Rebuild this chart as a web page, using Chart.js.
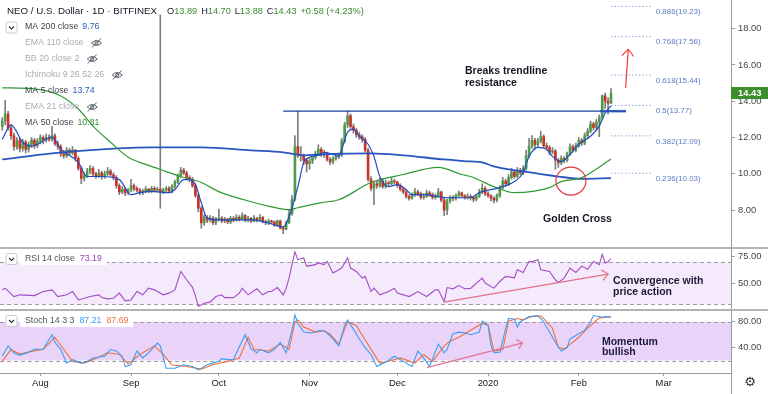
<!DOCTYPE html>
<html>
<head>
<meta charset="utf-8">
<title>NEO / U.S. Dollar · 1D · BITFINEX</title>
<script src="https://cdn.jsdelivr.net/npm/chart.js@4.4.1/dist/chart.umd.min.js"></script>
<style>
  html, body { margin: 0; padding: 0; background: #ffffff; }
  #stage { position: relative; width: 768px; height: 394px; overflow: hidden; background: #ffffff; }
  #stage canvas { position: absolute; left: 0; }
  .sep { position: absolute; left: 0; width: 768px; height: 2px; background: #b4b4b4; }
</style>
</head>
<body>
<div id="stage">
  <canvas id="pricePane" width="768" height="248" style="top:0"></canvas>
  <canvas id="rsiPane" width="768" height="62" style="top:248px"></canvas>
  <canvas id="stochPane" width="768" height="84" style="top:310px"></canvas>
  <div class="sep" style="top:247px"></div>
  <div class="sep" style="top:309px"></div>
  <div style="position:absolute;left:731px;top:373px;width:1px;height:21px;background:#9b9b9b"></div>
</div>
<script>
// Daily candles, day 0 = 2019-07-19 ... day 208 = 2020-02-12
const opens = [
  12.6, 12.9, 13.3, 12.55, 12.1, 11.5, 11.85, 11.4, 11.75, 11.35,
  11.6, 11.85, 11.55, 11.8, 12.0, 11.85, 12.0, 11.9, 12.1, 11.65,
  11.5, 11.1, 11.0, 11.3, 11.15, 11.3, 10.85, 10.3, 9.75, 9.9,
  10.15, 10.3, 10.0, 9.9, 10.05, 9.85, 10.0, 10.15, 9.95, 9.8,
  9.35, 9.0, 9.15, 8.95, 9.1, 9.35, 9.2, 9.1, 8.95, 9.05,
  9.15, 9.05, 9.2, 9.1, 9.15, 9.0, 9.1, 9.2, 9.05, 9.3,
  9.55, 9.9, 10.2, 10.05, 9.8, 9.7, 9.35, 8.8, 8.1, 7.3,
  7.6, 7.45, 7.55, 7.3, 7.5, 7.55, 7.4, 7.5, 7.35, 7.55,
  7.45, 7.6, 7.5, 7.7, 7.45, 7.55, 7.4, 7.55, 7.45, 7.6,
  7.35, 7.3, 7.4, 7.35, 7.15, 7.4, 7.0, 6.95, 7.3, 7.8,
  8.6, 11.5, 11.05, 11.0, 10.75, 10.55, 10.7, 10.9, 11.1, 11.35,
  11.05, 11.1, 10.8, 10.65, 10.85, 10.95, 11.05, 11.8, 12.7, 13.2,
  12.6, 12.4, 12.15, 12.05, 11.9, 11.3, 9.7, 9.2, 9.45, 9.35,
  9.6, 9.3, 9.5, 9.45, 9.6, 9.55, 9.35, 9.15, 9.0, 8.75,
  8.65, 8.85, 9.0, 8.9, 8.7, 8.75, 8.95, 8.85, 8.7, 8.8,
  9.0, 8.55, 8.0, 8.5, 8.7, 8.65, 8.8, 8.95, 8.8, 8.7,
  8.75, 8.7, 8.6, 8.75, 9.0, 9.2, 8.9, 8.8, 8.65, 8.55,
  8.8, 9.25, 9.6, 9.45, 9.8, 10.1, 9.85, 10.2, 10.05, 10.3,
  11.0, 11.5, 11.85, 11.6, 11.8, 12.05, 11.55, 11.45, 11.2, 11.25,
  10.75, 10.6, 10.85, 10.75, 11.1, 11.5, 11.3, 11.55, 11.85, 11.7,
  12.1, 12.35, 12.75, 12.55, 12.85, 13.1, 14.3, 14.0, 13.89
];
const highs = [
  13.1, 14.05, 13.45, 12.7, 12.25, 12.0, 11.95, 11.9, 11.85, 11.75,
  12.0, 11.95, 11.95, 12.15, 12.1, 12.2, 12.15, 12.6, 12.2, 11.8,
  11.6, 11.3, 11.45, 11.4, 11.5, 11.35, 10.95, 10.4, 10.05, 10.3,
  10.45, 10.4, 10.1, 10.25, 10.15, 10.15, 10.35, 10.25, 10.05, 9.9,
  9.45, 9.3, 9.25, 9.2, 9.7, 9.45, 9.3, 9.2, 9.15, 9.3,
  9.2, 9.3, 9.3, 9.25, 18.75, 9.2, 9.3, 9.3, 9.4, 9.65,
  10.0, 10.35, 10.3, 10.15, 9.9, 9.8, 9.45, 8.9, 8.2, 7.75,
  7.7, 7.7, 7.65, 7.6, 8.05, 7.65, 7.6, 7.55, 7.65, 7.65,
  7.75, 7.7, 7.85, 7.75, 7.65, 7.6, 7.7, 7.6, 7.75, 7.65,
  7.45, 7.5, 7.45, 7.4, 7.45, 7.45, 7.1, 7.4, 8.0, 8.8,
  12.1, 13.45, 11.5, 11.1, 10.85, 10.85, 11.0, 11.25, 11.6, 11.45,
  11.3, 11.2, 10.9, 10.95, 11.05, 11.15, 11.95, 12.85, 13.45, 13.3,
  12.75, 12.5, 12.3, 12.15, 12.0, 11.4, 9.85, 9.6, 9.6, 9.75,
  9.7, 9.65, 9.6, 9.8, 9.7, 9.6, 9.45, 9.25, 9.1, 8.85,
  8.95, 9.2, 9.1, 9.0, 8.9, 9.1, 9.05, 8.95, 8.9, 9.2,
  9.05, 8.65, 8.6, 8.8, 8.8, 8.9, 9.05, 9.0, 8.85, 8.9,
  8.85, 8.75, 8.85, 9.15, 9.45, 9.3, 9.0, 8.85, 8.75, 8.9,
  9.35, 9.8, 9.7, 9.95, 10.3, 10.2, 10.35, 10.3, 10.45, 11.3,
  11.95, 12.1, 11.95, 11.95, 12.35, 12.15, 11.7, 11.55, 11.45, 11.35,
  10.85, 11.0, 10.95, 11.2, 11.65, 11.6, 11.7, 12.0, 11.95, 12.25,
  12.5, 12.9, 12.85, 13.0, 13.25, 14.35, 14.45, 14.2, 14.7
];
const lows = [
  12.4, 12.7, 12.4, 11.9, 11.3, 11.35, 11.2, 11.25, 11.15, 11.2,
  11.45, 11.4, 11.45, 11.65, 11.65, 11.75, 11.8, 11.8, 11.55, 11.35,
  10.95, 10.85, 10.9, 11.0, 11.05, 10.7, 10.2, 9.45, 9.6, 9.8,
  10.0, 9.9, 9.75, 9.8, 9.7, 9.75, 9.9, 9.85, 9.65, 9.2,
  8.85, 8.9, 8.8, 8.85, 9.0, 9.05, 9.0, 8.85, 8.85, 8.95,
  8.95, 8.95, 9.0, 9.0, 8.1, 8.9, 9.0, 8.95, 8.95, 9.2,
  9.45, 9.8, 9.95, 9.7, 9.55, 9.25, 8.7, 7.9, 7.0, 7.15,
  7.3, 7.35, 7.2, 7.2, 7.4, 7.3, 7.3, 7.25, 7.25, 7.35,
  7.4, 7.4, 7.45, 7.35, 7.35, 7.3, 7.35, 7.35, 7.4, 7.3,
  7.2, 7.2, 7.25, 7.1, 7.1, 6.95, 6.7, 6.9, 7.25, 7.7,
  8.5, 10.9, 10.7, 10.5, 10.1, 10.25, 10.55, 10.8, 11.0, 10.95,
  10.9, 10.7, 10.5, 10.55, 10.75, 10.85, 10.95, 11.7, 12.55, 12.5,
  12.25, 12.0, 11.9, 11.75, 11.2, 9.6, 9.05, 8.3, 9.2, 9.25,
  9.2, 9.2, 9.3, 9.4, 9.45, 9.25, 9.05, 8.9, 8.65, 8.55,
  8.6, 8.75, 8.8, 8.6, 8.6, 8.7, 8.75, 8.6, 8.6, 8.7,
  8.45, 7.7, 7.75, 8.4, 8.5, 8.55, 8.7, 8.7, 8.6, 8.6,
  8.55, 8.45, 8.5, 8.7, 8.9, 8.8, 8.7, 8.5, 8.4, 8.45,
  8.7, 9.15, 9.3, 9.35, 9.7, 9.75, 9.8, 9.95, 9.95, 10.2,
  10.9, 11.4, 11.35, 11.5, 11.7, 11.45, 11.3, 11.05, 11.1, 10.25,
  10.35, 10.5, 10.6, 10.65, 11.0, 11.2, 11.2, 11.45, 11.55, 11.6,
  12.0, 12.25, 12.4, 12.45, 12.05, 13.0, 13.6, 13.3, 13.88
];
const closes = [
  12.9, 13.3, 12.55, 12.1, 11.5, 11.85, 11.4, 11.75, 11.35, 11.6,
  11.85, 11.55, 11.8, 12.0, 11.85, 12.0, 11.9, 12.1, 11.65, 11.5,
  11.1, 11.0, 11.3, 11.15, 11.3, 10.85, 10.3, 9.75, 9.9, 10.15,
  10.3, 10.0, 9.9, 10.05, 9.85, 10.0, 10.15, 9.95, 9.8, 9.35,
  9.0, 9.15, 8.95, 9.1, 9.35, 9.2, 9.1, 8.95, 9.05, 9.15,
  9.05, 9.2, 9.1, 9.15, 9.0, 9.1, 9.2, 9.05, 9.3, 9.55,
  9.9, 10.2, 10.05, 9.8, 9.7, 9.35, 8.8, 8.1, 7.3, 7.6,
  7.45, 7.55, 7.3, 7.5, 7.55, 7.4, 7.5, 7.35, 7.55, 7.45,
  7.6, 7.5, 7.7, 7.45, 7.55, 7.4, 7.55, 7.45, 7.6, 7.35,
  7.3, 7.4, 7.35, 7.15, 7.4, 7.0, 6.95, 7.3, 7.8, 8.6,
  11.5, 11.05, 11.0, 10.75, 10.55, 10.7, 10.9, 11.1, 11.35, 11.05,
  11.1, 10.8, 10.65, 10.85, 10.95, 11.05, 11.8, 12.7, 13.2, 12.6,
  12.4, 12.15, 12.05, 11.9, 11.3, 9.7, 9.2, 9.45, 9.35, 9.6,
  9.3, 9.5, 9.45, 9.6, 9.55, 9.35, 9.15, 9.0, 8.75, 8.65,
  8.85, 9.0, 8.9, 8.7, 8.75, 8.95, 8.85, 8.7, 8.8, 9.0,
  8.55, 8.0, 8.5, 8.7, 8.65, 8.8, 8.95, 8.8, 8.7, 8.75,
  8.7, 8.6, 8.75, 9.0, 9.2, 8.9, 8.8, 8.65, 8.55, 8.8,
  9.25, 9.6, 9.45, 9.8, 10.1, 9.85, 10.2, 10.05, 10.3, 11.0,
  11.5, 11.85, 11.6, 11.8, 12.05, 11.55, 11.45, 11.2, 11.25, 10.75,
  10.6, 10.85, 10.75, 11.1, 11.5, 11.3, 11.55, 11.85, 11.7, 12.1,
  12.35, 12.75, 12.55, 12.85, 13.1, 14.3, 14.0, 13.89, 14.43
];
const lastChange = 0.58;
const lastChangePct = 4.23;

// x axis: day index of the 1st of each month
const monthTickDays = [13, 44, 74, 105, 135, 166, 197, 226];
const monthTickLabels = ['Aug', 'Sep', 'Oct', 'Nov', 'Dec', '2020', 'Feb', 'Mar'];

// Moving averages (day, value)
const ma5Days = [0, 3, 7, 10, 17, 20, 26, 29, 34, 40, 44, 47, 51, 57, 59, 62, 64, 66, 68, 70,
  74, 79, 85, 91, 96, 98, 101, 103, 105, 109, 110, 113, 115, 116, 118, 120, 122, 125, 127, 129,
  132, 135, 138, 140, 144, 149, 152, 156, 160, 163, 170, 175, 178, 180, 183, 186, 188, 191, 194, 197,
  201, 204, 206, 208];
const ma5Values = [11.9, 12.7, 11.74, 11.52, 12.02, 11.35, 10.63, 9.85, 9.85, 9.68, 8.85, 8.96, 9.03, 8.96, 9.13, 9.68, 9.68, 9.41, 8.41, 7.57,
  7.46, 7.46, 7.46, 7.29, 7.07, 7.63, 9.29, 10.63, 10.91, 11.07, 11.18, 11.07, 10.96, 11.35, 12.29, 12.46, 12.07, 11.63, 10.96, 9.85,
  9.29, 9.4, 9.13, 8.85, 8.85, 8.74, 8.68, 8.68, 8.68, 8.96, 9.24, 9.57, 10.07, 10.96, 11.46, 11.35, 10.96, 10.68, 11.07, 11.63,
  12.07, 12.63, 13.35, 13.74];
const ma50Days = [0, 11, 20, 26, 31, 37, 43, 47, 54, 61, 68, 74, 85, 92, 98, 101, 109, 115, 126, 137,
  149, 157, 160, 168, 175, 187, 191, 198, 208];
const ma50Values = [14.74, 14.68, 14.29, 13.57, 12.63, 11.74, 10.91, 10.63, 10.24, 9.85, 9.52, 9.02, 8.46, 8.18, 8.02, 8.13, 8.41, 8.57, 9.52, 9.96,
  10.35, 9.96, 9.85, 9.29, 8.96, 9.24, 9.57, 9.79, 10.81];
const ma200Days = [0, 17, 34, 51, 68, 85, 96, 103, 109, 126, 137, 151, 160, 164, 168, 178, 190, 198, 208];
const ma200Values = [10.79, 11.13, 11.35, 11.46, 11.46, 11.29, 11.18, 11.02, 11.07, 11.13, 11.02, 10.79, 10.68, 10.63, 10.41, 10.13, 9.85, 9.72, 9.76];

// RSI 14
const rsiDays = [0, 1, 4, 6, 11, 14, 17, 19, 22, 24, 26, 28, 30, 33, 34, 36, 38, 40, 42, 44,
  46, 48, 50, 52, 55, 57, 59, 61, 63, 65, 66, 67, 69, 71, 73, 75, 76, 79, 81, 82,
  84, 87, 89, 91, 92, 94, 96, 97, 98, 99, 100, 101, 103, 104, 107, 108, 110, 111, 113, 115,
  116, 118, 119, 121, 123, 124, 126, 127, 129, 132, 134, 135, 139, 142, 145, 148, 149, 151, 152, 154,
  156, 158, 160, 164, 165, 168, 170, 172, 175, 176, 178, 180, 181, 183, 184, 187, 189, 190, 192, 194,
  196, 198, 200, 202, 204, 205, 206, 207, 208];
const rsiValues = [43.6, 45.2, 37.3, 38.9, 38.2, 42.0, 43.6, 37.3, 38.9, 42.0, 34.1, 35.7, 37.3, 38.9, 36.3, 35.1, 35.7, 40.5, 33.2, 34.1,
  42.0, 38.9, 45.2, 43.6, 38.9, 40.5, 43.6, 61.0, 53.1, 46.0, 38.0, 28.0, 31.0, 32.0, 37.3, 38.9, 36.3, 36.3, 40.5, 45.2,
  38.9, 44.6, 38.9, 42.0, 42.0, 45.8, 38.9, 45.0, 54.7, 67.4, 79.4, 72.1, 73.7, 65.8, 67.4, 69.0, 67.4, 70.5, 59.5, 62.6,
  64.2, 73.7, 64.2, 61.0, 54.7, 56.3, 42.0, 45.2, 38.9, 42.0, 45.2, 40.5, 37.3, 42.0, 37.3, 43.6, 43.6, 32.5, 45.8, 44.6,
  47.7, 44.6, 45.0, 54.7, 50.0, 45.2, 51.5, 56.3, 55.0, 62.6, 60.0, 70.5, 70.0, 72.1, 62.6, 61.0, 53.1, 50.6, 54.7, 64.2,
  60.0, 66.0, 63.0, 70.5, 67.4, 77.2, 69.0, 70.0, 73.19];

// Stoch 14 3 3
const stochKDays = [0, 2, 4, 6, 9, 11, 14, 17, 18, 20, 22, 24, 27, 29, 31, 35, 37, 39, 41, 42,
  44, 46, 48, 50, 53, 54, 56, 59, 62, 65, 67, 70, 72, 74, 75, 77, 79, 82, 83, 85,
  87, 88, 91, 93, 95, 97, 99, 100, 101, 103, 106, 108, 110, 111, 113, 115, 117, 118, 120, 122,
  124, 126, 128, 132, 134, 136, 140, 142, 144, 146, 149, 151, 152, 154, 156, 158, 160, 163, 164, 166,
  167, 168, 170, 172, 173, 175, 176, 177, 180, 183, 185, 187, 189, 191, 193, 194, 197, 199, 201, 202,
  205, 206, 208];
const stochKValues = [26.7, 42.7, 32.0, 28.0, 33.0, 37.4, 37.4, 59.8, 48.0, 37.4, 16.0, 21.4, 16.0, 18.7, 24.0, 26.7, 37.0, 34.7, 26.7, 10.7,
  13.4, 34.7, 24.0, 32.0, 47.0, 42.7, 8.0, 8.0, 13.4, 10.7, 5.4, 13.4, 16.0, 18.7, 23.0, 21.4, 22.0, 50.7, 60.0, 38.0,
  32.0, 37.4, 32.0, 37.4, 48.0, 32.0, 66.7, 90.7, 77.4, 64.0, 62.6, 66.0, 66.0, 62.6, 53.4, 42.7, 74.7, 82.7, 68.6, 53.4,
  40.0, 29.4, 10.7, 20.0, 26.7, 21.4, 10.7, 34.7, 24.0, 10.7, 45.4, 32.0, 37.4, 61.4, 64.0, 63.0, 60.0, 64.0, 81.0, 74.7,
  42.7, 32.0, 33.0, 69.4, 85.4, 84.0, 72.0, 80.0, 88.0, 89.6, 80.0, 64.0, 48.0, 34.7, 40.0, 53.4, 61.4, 66.7, 80.0, 89.6,
  87.0, 88.0, 87.21];
const stochDDays = [0, 3, 6, 11, 14, 18, 21, 24, 28, 31, 36, 40, 43, 47, 52, 55, 58, 63, 68, 72,
  77, 81, 84, 86, 91, 95, 98, 100, 101, 103, 107, 110, 112, 115, 118, 121, 126, 129, 133, 136,
  141, 144, 147, 151, 153, 156, 159, 164, 166, 168, 171, 173, 176, 178, 181, 184, 185, 188, 190, 192,
  194, 197, 200, 204, 208];
const stochDValues = [18.7, 37.0, 30.0, 35.0, 37.4, 56.0, 37.4, 18.7, 16.0, 21.4, 32.0, 29.4, 14.7, 29.4, 42.7, 29.4, 13.0, 10.7, 6.7, 13.4,
  18.7, 24.0, 56.0, 37.4, 34.7, 45.4, 37.4, 80.0, 82.7, 72.0, 64.0, 66.0, 61.0, 45.4, 80.0, 74.0, 37.4, 16.0, 20.0, 24.0,
  16.0, 29.4, 18.7, 42.7, 50.0, 56.0, 64.0, 77.4, 74.7, 34.7, 37.0, 81.0, 85.0, 83.0, 88.0, 89.0, 85.0, 70.0, 40.0, 38.0,
  45.0, 56.0, 70.0, 86.0, 87.69];

// Drawings
const fibRatios = [0.886, 0.768, 0.618, 0.5, 0.382, 0.236];
const fibPrices = [19.23, 17.56, 15.44, 13.77, 12.09, 10.03];
const trendLevel = 13.45;
const priceTicks = [8, 10, 12, 14, 16, 18];
const rsiTicks = [50, 75];
const stochTicks = [40, 80];

// ---- layout constants ----
const X_MIN = -0.77, X_MAX = 249;
const AXIS_W = 37;
const FONT = '"Liberation Sans", Arial, sans-serif';
const UP = '#4f9a47', DOWN = '#cc3229', WICK = '#7d7d7d';

const pts = (days, vals) => days.map((d, k) => ({ x: d, y: vals[k] }));

function hiddenX() {
  return { type: 'linear', min: X_MIN, max: X_MAX, offset: false, display: false };
}

function rightAxis(min, max, tickValues) {
  return {
    type: 'linear', position: 'right', min: min, max: max,
    afterBuildTicks: s => { s.ticks = tickValues.map(v => ({ value: v })); },
    afterFit: s => { s.width = AXIS_W; s.paddingTop = 0; s.paddingBottom = 0; },
    grid: { drawOnChartArea: false, drawTicks: true, tickLength: 4, color: '#9b9b9b' },
    border: { display: true, color: '#9b9b9b' },
    ticks: { padding: 3, color: '#434651', font: { family: FONT, size: 9.4 }, callback: v => v.toFixed(2) }
  };
}

function baseOptions(scales) {
  return {
    responsive: false, animation: false, devicePixelRatio: 1, events: [],
    layout: { padding: 0 },
    plugins: { legend: { display: false }, tooltip: { enabled: false } },
    scales: scales
  };
}

function lineSet(data, color, width, extra) {
  return Object.assign({
    type: 'line', data: data, borderColor: color, borderWidth: width,
    pointRadius: 0, fill: false, tension: 0, order: 0
  }, extra || {});
}

function drawArrow(ctx, x1, y1, x2, y2, color, head) {
  ctx.save();
  ctx.strokeStyle = color; ctx.lineWidth = 1.2;
  ctx.beginPath(); ctx.moveTo(x1, y1); ctx.lineTo(x2, y2); ctx.stroke();
  const a = Math.atan2(y2 - y1, x2 - x1);
  ctx.beginPath();
  ctx.moveTo(x2 - head * Math.cos(a - 0.72), y2 - head * Math.sin(a - 0.72));
  ctx.lineTo(x2, y2);
  ctx.lineTo(x2 - head * Math.cos(a + 0.72), y2 - head * Math.sin(a + 0.72));
  ctx.stroke();
  ctx.restore();
}

function drawChevronBox(ctx, x, y) {
  ctx.save();
  ctx.fillStyle = '#ffffff';
  ctx.strokeStyle = '#c8cad0'; ctx.lineWidth = 1;
  ctx.beginPath(); ctx.roundRect(x + 0.5, y + 0.5, 11, 11, 2); ctx.fill(); ctx.stroke();
  ctx.strokeStyle = '#2a2e39'; ctx.lineWidth = 1.1;
  ctx.beginPath(); ctx.moveTo(x + 3.5, y + 5); ctx.lineTo(x + 6, y + 7.5); ctx.lineTo(x + 8.5, y + 5); ctx.stroke();
  ctx.restore();
}

function drawEyeOff(ctx, cx, cy) {
  ctx.save();
  ctx.strokeStyle = '#5d606b'; ctx.lineWidth = 1;
  ctx.beginPath();
  ctx.moveTo(cx - 5, cy);
  ctx.quadraticCurveTo(cx, cy - 5, cx + 5, cy);
  ctx.quadraticCurveTo(cx, cy + 5, cx - 5, cy);
  ctx.stroke();
  ctx.beginPath(); ctx.arc(cx, cy, 1.6, 0, Math.PI * 2); ctx.stroke();
  ctx.beginPath(); ctx.moveTo(cx - 4.5, cy + 4.5); ctx.lineTo(cx + 4.5, cy - 4.5); ctx.stroke();
  ctx.restore();
}

function drawBand(chart, lo, hi, fill) {
  const { ctx, chartArea } = chart;
  const ys = chart.scales.y;
  const yTop = ys.getPixelForValue(hi), yBot = ys.getPixelForValue(lo);
  ctx.save();
  ctx.fillStyle = fill;
  ctx.fillRect(chartArea.left, yTop, chartArea.right - chartArea.left, yBot - yTop);
  ctx.strokeStyle = '#9e9e9e'; ctx.lineWidth = 1; ctx.setLineDash([4, 3]);
  [yTop, yBot].forEach(y => {
    ctx.beginPath(); ctx.moveTo(chartArea.left, Math.round(y) + 0.5); ctx.lineTo(chartArea.right, Math.round(y) + 0.5); ctx.stroke();
  });
  ctx.restore();
}

function drawPaneLegend(ctx, y, parts) {
  ctx.save();
  ctx.font = '8.8px ' + FONT; ctx.textBaseline = 'middle';
  let x = 25;
  let total = 0;
  parts.forEach((p, k) => { total += ctx.measureText(p[0]).width + (k ? 5 : 0); });
  ctx.fillStyle = 'rgba(255,255,255,0.95)';
  ctx.fillRect(20, y - 6, total + 10, 12);
  drawChevronBox(ctx, 5.5, y - 6);
  parts.forEach((p, k) => {
    ctx.fillStyle = p[1];
    ctx.fillText(p[0], x, y);
    x += ctx.measureText(p[0]).width + 5;
  });
  ctx.restore();
}

// ---- price pane ----
const n = closes.length;
const wickSet = {
  type: 'bar', data: closes.map((c, i) => ({ x: i, y: [lows[i], highs[i]] })),
  backgroundColor: WICK, barThickness: 1, grouped: false, order: 3
};
const bodySet = {
  type: 'bar', data: closes.map((c, i) => ({ x: i, y: [opens[i], c] })),
  backgroundColor: ctx => closes[ctx.dataIndex] >= opens[ctx.dataIndex] ? UP : DOWN,
  barThickness: 2, minBarLength: 1, grouped: false, order: 2
};

const FIB_START = 208, FIB_END = 222, FIB_LABEL = 223.3;
const TREND_START = 96, TREND_END = 213.1, TREND_HILITE = 204.2;

const fibSets = fibPrices.map(p => lineSet([{ x: FIB_START, y: p }, { x: FIB_END, y: p }], '#8fa9dd', 1, { borderDash: [1.5, 2] }));

const priceOverlay = {
  id: 'priceOverlay',
  afterDatasetsDraw(chart) {
    const { ctx } = chart;
    const xs = chart.scales.x, ys = chart.scales.y;
    ctx.save();
    // fib labels
    ctx.font = '7.9px ' + FONT; ctx.fillStyle = '#5b7cc4'; ctx.textBaseline = 'middle'; ctx.textAlign = 'left';
    fibRatios.forEach((r, k) => {
      ctx.fillText(r + '(' + fibPrices[k].toFixed(2) + ')', xs.getPixelForValue(FIB_LABEL), ys.getPixelForValue(fibPrices[k]) + 5.5);
    });
    // up arrow
    drawArrow(ctx, xs.getPixelForValue(213.0), ys.getPixelForValue(14.73), xs.getPixelForValue(213.9), ys.getPixelForValue(16.86), '#ef3b3b', 9);
    // golden cross circle
    ctx.strokeStyle = '#e8323c'; ctx.lineWidth = 1.2;
    ctx.beginPath();
    ctx.ellipse(xs.getPixelForValue(194.3), ys.getPixelForValue(9.6), 15, 14, 0, 0, Math.PI * 2);
    ctx.stroke();
    // notes
    ctx.font = 'bold 10.5px ' + FONT; ctx.fillStyle = '#131722';
    ctx.fillText('Breaks trendline', xs.getPixelForValue(158.1), ys.getPixelForValue(15.66));
    ctx.fillText('resistance', xs.getPixelForValue(158.1), ys.getPixelForValue(15.0));
    ctx.fillText('Golden Cross', xs.getPixelForValue(184.8), ys.getPixelForValue(7.49));
    ctx.restore();
  },
  afterDraw(chart) {
    const { ctx } = chart;
    const ys = chart.scales.y;
    const last = n - 1;
    ctx.save();
    ctx.textBaseline = 'middle'; ctx.textAlign = 'left';
    // title + OHLC
    ctx.font = '9.75px ' + FONT; ctx.fillStyle = '#131722';
    ctx.fillText('NEO / U.S. Dollar · 1D · BITFINEX', 7, 11);
    ctx.font = '9.2px ' + FONT;
    let x = 167;
    const items = [['O', opens[last].toFixed(2)], ['H', highs[last].toFixed(2)], ['L', lows[last].toFixed(2)], ['C', closes[last].toFixed(2)]];
    items.forEach(it => {
      ctx.fillStyle = '#131722'; ctx.fillText(it[0], x, 11); x += ctx.measureText(it[0]).width;
      ctx.fillStyle = '#3a8a2f'; ctx.fillText(it[1], x, 11); x += ctx.measureText(it[1]).width + 4;
    });
    ctx.fillStyle = '#3a8a2f';
    ctx.fillText('+' + lastChange.toFixed(2) + ' (+' + lastChangePct.toFixed(2) + '%)', x, 11);
    // indicator legend
    drawChevronBox(ctx, 5.5, 21.5);
    const rows = [
      ['MA 200 close', ma200Values[ma200Values.length - 1].toFixed(2), '#2757c4', false],
      ['EMA 110 close', null, null, true],
      ['BB 20 close 2', null, null, true],
      ['Ichimoku 9 26 52 26', null, null, true],
      ['MA 5 close', ma5Values[ma5Values.length - 1].toFixed(2), '#2757c4', false],
      ['EMA 21 close', null, null, true],
      ['MA 50 close', ma50Values[ma50Values.length - 1].toFixed(2), '#2e8b2e', false]
    ];
    ctx.font = '8.8px ' + FONT;
    rows.forEach((r, k) => {
      const y = 27 + 16 * k;
      ctx.fillStyle = r[3] ? '#a9acb4' : '#3c3f4a';
      ctx.fillText(r[0], 25, y);
      const w = ctx.measureText(r[0]).width;
      if (r[3]) drawEyeOff(ctx, 25 + w + 13, y);
      else { ctx.fillStyle = r[2]; ctx.fillText(r[1], 25 + w + 4, y); }
    });
    // last price tag
    const py = ys.getPixelForValue(closes[last]);
    ctx.fillStyle = '#3b8d2e';
    ctx.fillRect(731, Math.round(py) - 6, 37, 12);
    ctx.font = 'bold 9.4px ' + FONT; ctx.fillStyle = '#ffffff';
    ctx.fillText(closes[last].toFixed(2), 738, py);
    ctx.restore();
  }
};

new Chart(document.getElementById('pricePane'), {
  type: 'bar',
  data: {
    datasets: [
      lineSet(pts(ma5Days, ma5Values), '#1f4cc4', 1.2, { cubicInterpolationMode: 'monotone' }),
      lineSet(pts(ma50Days, ma50Values), '#2f9a33', 1.2, { cubicInterpolationMode: 'monotone' }),
      lineSet(pts(ma200Days, ma200Values), '#2a55bf', 1.8, { cubicInterpolationMode: 'monotone' }),
      lineSet([{ x: TREND_START, y: trendLevel }, { x: TREND_END, y: trendLevel }], '#1b3f9c', 1.3),
      lineSet([{ x: TREND_HILITE, y: trendLevel }, { x: TREND_END, y: trendLevel }], '#5a86d6', 2.6),
      ...fibSets,
      bodySet,
      wickSet
    ]
  },
  options: baseOptions({ x: hiddenX(), y: rightAxis(5.91, 19.58, priceTicks) }),
  plugins: [priceOverlay]
});

// ---- RSI pane ----
const rsiOverlay = {
  id: 'rsiOverlay',
  beforeDatasetsDraw(chart) { drawBand(chart, 30, 70, '#f5e9fc'); },
  afterDatasetsDraw(chart) {
    const { ctx } = chart;
    const xs = chart.scales.x, ys = chart.scales.y;
    drawArrow(ctx, xs.getPixelForValue(150.9), ys.getPixelForValue(32.1), xs.getPixelForValue(207), ys.getPixelForValue(58.5), '#e27089', 8);
    ctx.save();
    ctx.font = 'bold 10.5px ' + FONT; ctx.fillStyle = '#1c1a36'; ctx.textBaseline = 'middle';
    ctx.fillText('Convergence with', xs.getPixelForValue(208.7), ys.getPixelForValue(51.9));
    ctx.fillText('price action', xs.getPixelForValue(208.7), ys.getPixelForValue(41.8));
    ctx.restore();
  },
  afterDraw(chart) {
    drawPaneLegend(chart.ctx, 11, [['RSI 14 close', '#50535e'], [rsiValues[rsiValues.length - 1].toFixed(2), '#9c3fc4']]);
  }
};

new Chart(document.getElementById('rsiPane'), {
  type: 'line',
  data: { datasets: [lineSet(pts(rsiDays, rsiValues), '#a24cc6', 1.1)] },
  options: baseOptions({ x: hiddenX(), y: rightAxis(24.6, 83.1, rsiTicks) }),
  plugins: [rsiOverlay]
});

// ---- Stoch pane ----
const stochOverlay = {
  id: 'stochOverlay',
  beforeDatasetsDraw(chart) { drawBand(chart, 20, 80, '#ead3f9'); },
  afterDatasetsDraw(chart) {
    const { ctx } = chart;
    const xs = chart.scales.x, ys = chart.scales.y;
    drawArrow(ctx, xs.getPixelForValue(145), ys.getPixelForValue(9.1), xs.getPixelForValue(177.8), ys.getPixelForValue(47.3), '#e0739a', 7);
    ctx.save();
    ctx.font = 'bold 10.5px ' + FONT; ctx.fillStyle = '#1c1a36'; ctx.textBaseline = 'middle';
    ctx.fillText('Momentum', xs.getPixelForValue(204.9), ys.getPixelForValue(48.9));
    ctx.fillText('bullish', xs.getPixelForValue(204.9), ys.getPixelForValue(33.3));
    ctx.restore();
  },
  afterDraw(chart) {
    const { ctx } = chart;
    drawPaneLegend(ctx, 11, [['Stoch 14 3 3', '#50535e'],
      [stochKValues[stochKValues.length - 1].toFixed(2), '#3d9df2'],
      [stochDValues[stochDValues.length - 1].toFixed(2), '#f0703a']]);
    ctx.save();
    ctx.font = '13px "DejaVu Sans", sans-serif'; ctx.fillStyle = '#2a2e39';
    ctx.textAlign = 'center'; ctx.textBaseline = 'middle';
    ctx.fillText('\u2699', 750, 73);
    ctx.restore();
  }
};

const stochX = {
  type: 'linear', position: 'bottom', min: X_MIN, max: X_MAX, offset: false,
  afterBuildTicks: s => { s.ticks = monthTickDays.map(v => ({ value: v })); },
  afterFit: s => { s.height = 21; s.paddingLeft = 0; s.paddingRight = 0; },
  grid: { drawOnChartArea: false, drawTicks: true, tickLength: 3, color: '#9b9b9b' },
  border: { display: true, color: '#9b9b9b' },
  ticks: { autoSkip: false, maxRotation: 0, padding: 2, color: '#131722', font: { family: FONT, size: 9.4 },
    callback: (v, i) => monthTickLabels[i] }
};

new Chart(document.getElementById('stochPane'), {
  type: 'line',
  data: {
    datasets: [
      lineSet(pts(stochKDays, stochKValues), '#3d9df2', 1.1),
      lineSet(pts(stochDDays, stochDValues), '#f0703a', 1.1)
    ]
  },
  options: baseOptions({ x: stochX, y: rightAxis(0.7, 98.2, stochTicks) }),
  plugins: [stochOverlay]
});
</script>
</body>
</html>
